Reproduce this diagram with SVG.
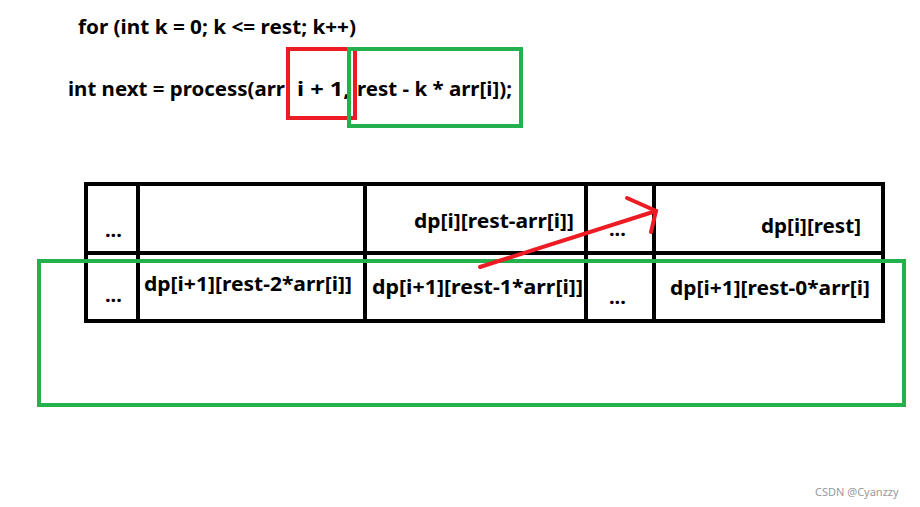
<svg xmlns="http://www.w3.org/2000/svg" width="920" height="507" viewBox="0 0 920 507">
<style>
text{font-family:"Noto Sans","Liberation Sans",sans-serif;font-weight:bold;font-size:20px;fill:#000}
.t{fill:none;stroke:#000;stroke-width:4}
</style>
<rect width="920" height="507" fill="#fff"/>
<g id="code">
<text x="78" y="34" textLength="278" lengthAdjust="spacingAndGlyphs">for (int k = 0; k &lt;= rest; k++)</text>
<text x="68" y="96" textLength="217" lengthAdjust="spacingAndGlyphs">int next = process(arr</text>
<text x="297" y="96" textLength="53" lengthAdjust="spacingAndGlyphs">i + 1,</text>
<text x="357" y="96" textLength="155" lengthAdjust="spacingAndGlyphs">rest - k * arr[i]);</text>
</g>
<g id="table">
<rect class="t" x="86" y="184" width="797" height="137"/>
<line class="t" x1="86" y1="253" x2="883" y2="253"/>
<line class="t" x1="138" y1="184" x2="138" y2="321"/>
<line class="t" x1="365" y1="184" x2="365" y2="321"/>
<line class="t" x1="586" y1="184" x2="586" y2="321"/>
<line class="t" x1="654" y1="184" x2="654" y2="321"/>
<text x="105" y="237">...</text>
<text x="414" y="228" textLength="160" lengthAdjust="spacingAndGlyphs">dp[i][rest-arr[i]]</text>
<text x="609" y="236">...</text>
<text x="761" y="233" textLength="100" lengthAdjust="spacingAndGlyphs">dp[i][rest]</text>
<text x="105" y="302">...</text>
<text x="144" y="291" textLength="208" lengthAdjust="spacingAndGlyphs">dp[i+1][rest-2*arr[i]]</text>
<text x="372" y="294" textLength="211" lengthAdjust="spacingAndGlyphs">dp[i+1][rest-1*arr[i]]</text>
<text x="609" y="304">...</text>
<text x="670" y="295" textLength="200" lengthAdjust="spacingAndGlyphs">dp[i+1][rest-0*arr[i]</text>
</g>
<g id="highlights" fill="none" stroke-width="4">
<rect x="288" y="49" width="67" height="69" stroke="#ed1c24"/>
<rect x="349" y="49" width="172" height="77" stroke="#22b14c"/>
<rect x="39" y="261" width="865" height="144" stroke="#22b14c"/>
</g>
<g id="connectors" stroke="#ed1c24" stroke-width="4" fill="none" stroke-linecap="round">
<line x1="480" y1="267" x2="656" y2="211"/>
<polyline points="627,198 656,211 651,232"/>
</g>
<text x="815" y="496" style="font-weight:normal;font-size:11px;fill:#999">CSDN @Cyanzzy</text>
</svg>
